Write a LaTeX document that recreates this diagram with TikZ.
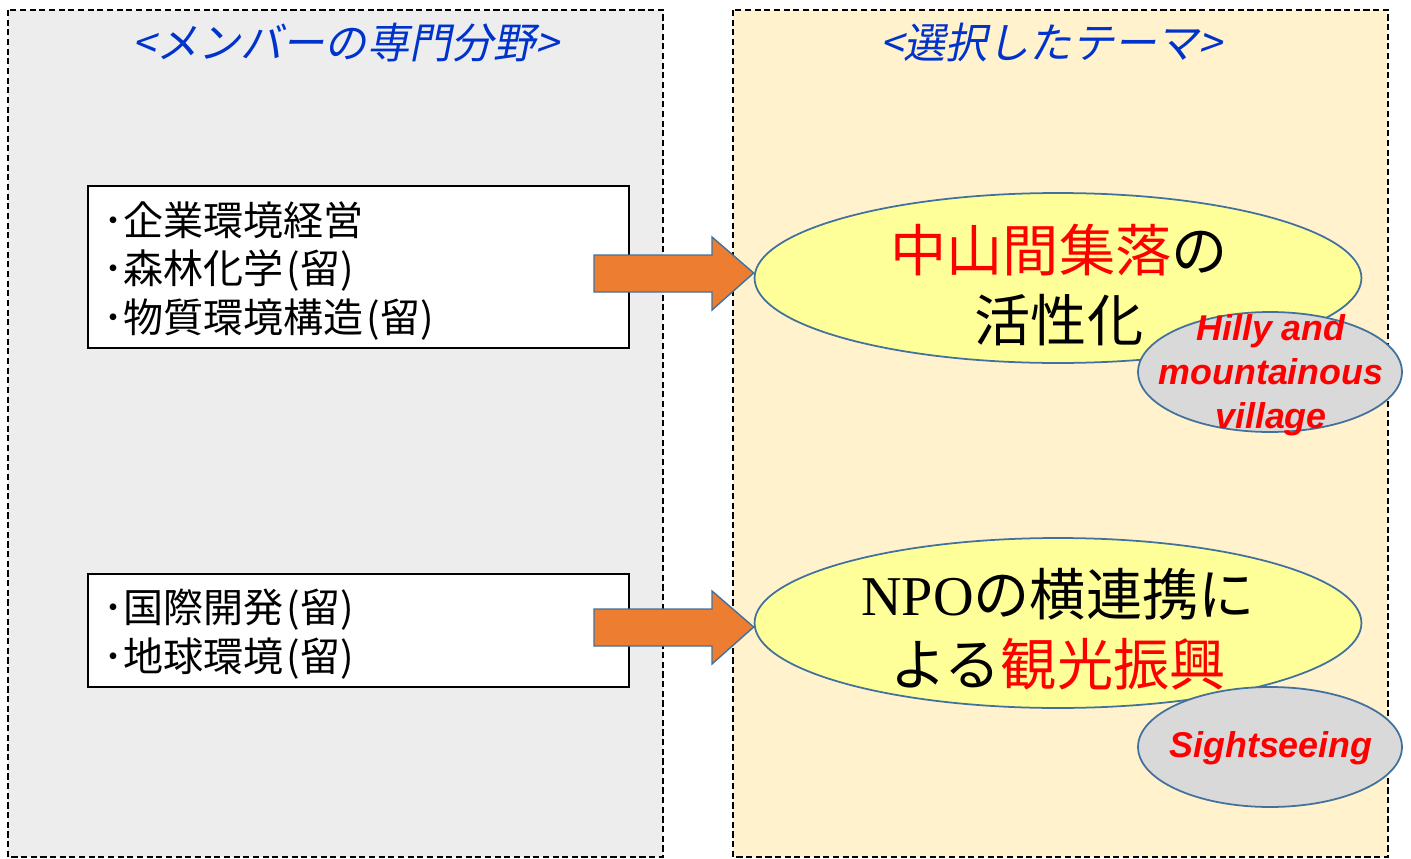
\documentclass[tikz,border=0pt]{standalone}
\usepackage{fontspec}
\usetikzlibrary{shapes.geometric}
\newfontfamily\jp{Noto Sans CJK JP}
\newfontfamily\jpit{Noto Sans CJK JP}[FakeSlant=0.2]
\newfontfamily\lsans{Liberation Sans}
\newfontfamily\lserif{Liberation Serif}
\definecolor{panelgray}{HTML}{EDEDED}
\definecolor{panelyel}{HTML}{FFF2CC}
\definecolor{ellyel}{HTML}{FFFF99}
\definecolor{ellgray}{HTML}{D9D9D9}
\definecolor{edgeblue}{HTML}{41719C}
\definecolor{arroworange}{HTML}{ED7D31}
\definecolor{titleblue}{HTML}{0033CC}
\definecolor{textred}{HTML}{FF0000}
\newcommand{\ryu}{\hspace{0.08em}(留)}
\begin{document}
\begin{tikzpicture}[x=0.02cm,y=-0.02cm,
  panel/.style={draw=black, line width=0.8pt, dash pattern=on 3.5pt off 2pt},
  paneltitle/.style={font=\jpit\fontsize{24}{28}\selectfont, text=titleblue, inner sep=0pt},
  listbox/.style={draw=black, line width=0.8pt, fill=white, rectangle, minimum width=10.82cm, inner sep=0pt},
  listtext/.style={anchor=west, align=left, inner sep=0pt, font=\jp\fontsize{22.8}{27.8}\selectfont},
  blockarrow/.style={draw=edgeblue, fill=arroworange, line width=0.8pt, line join=miter},
  bigell/.style={ellipse, draw=edgeblue, fill=ellyel, line width=1pt, minimum width=12.14cm, minimum height=3.4cm, inner sep=0pt},
  bigtext/.style={align=center, inner sep=0pt, font=\jp\fontsize{32}{39.7}\selectfont},
  smallell/.style={ellipse, draw=edgeblue, fill=ellgray, line width=1pt, minimum width=5.28cm, minimum height=2.4cm, inner sep=0pt},
  smalltext/.style={align=center, inner sep=0pt, text=textred, font=\lsans\bfseries\itshape\fontsize{20.4}{25}\selectfont}
]
\useasboundingbox (0,0) rectangle (1411,859);
% panels
\draw[panel, fill=panelgray] (8,10) rectangle (663,857);
\draw[panel, fill=panelyel] (733,10) rectangle (1388,857);
\node[paneltitle] (t1) at (346,43) {<メンバーの専門分野>};
\node[paneltitle] (t2) at (1051,43) {<選択したテーマ>};
% list boxes
\node[listbox, minimum height=3.24cm] (b1) at (358.5,267) {};
\node[listtext] (b1t) at (103,271) {･企業環境経営\\･森林化学\ryu\\･物質環境構造\ryu};
\node[listbox, minimum height=2.26cm] (b2) at (358.5,630.5) {};
\node[listtext] (b2t) at (103,634) {･国際開発\ryu\\･地球環境\ryu};
% ellipses
\node[bigell] (e1) at (1058,278) {};
\node[bigtext] (e1t) at (1059,285) {{\color{textred}中山間集落}の\\活性化};
\node[smallell] (s1) at (1270,372) {};
\node[smalltext] (s1t) at (1271,375) {Hilly and\\mountainous\\village};
\node[bigell] (e2) at (1058,623) {};
\node[bigtext] (e2t) at (1058,629) {{\lserif NPO}の横連携に\\よる{\color{textred}観光振興}};
\node[smallell] (s2) at (1270,747) {};
\node[smalltext] (s2t) at (1271,748) {Sightseeing};
% block arrows
\draw[blockarrow] (594,255) -- (712,255) -- (712,237) -- (e1.west |- 0,273) -- (712,310) -- (712,292) -- (594,292) -- cycle;
\draw[blockarrow] (594,609) -- (712,609) -- (712,591) -- (e2.west |- 0,627) -- (712,664) -- (712,646) -- (594,646) -- cycle;
\end{tikzpicture}
\end{document}
